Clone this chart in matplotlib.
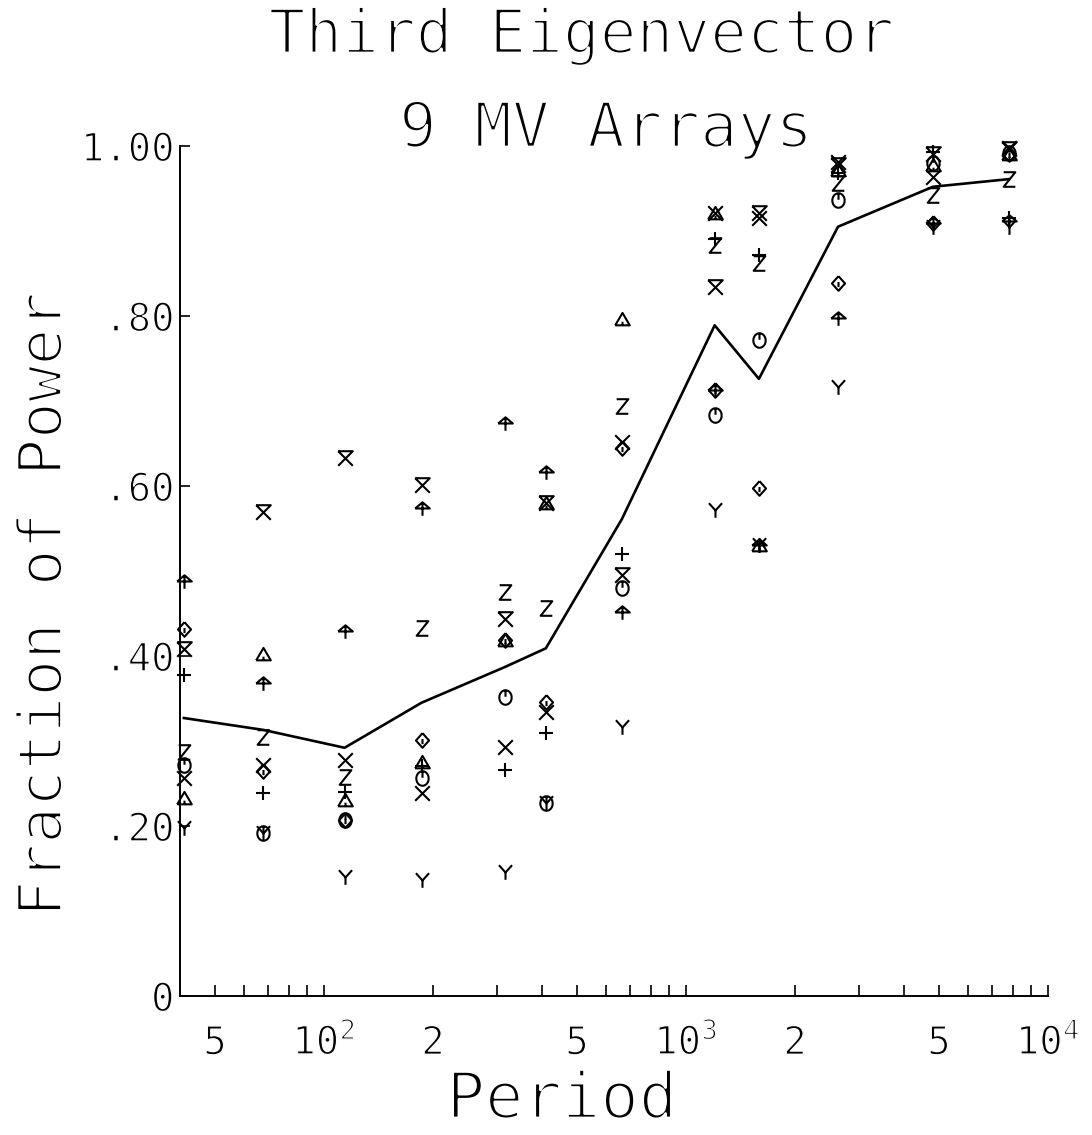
"""Third eigenvector power fraction vs period for the 9 MV arrays."""
import numpy as np
import matplotlib
matplotlib.use("Agg")
import matplotlib.pyplot as plt
from matplotlib import patheffects as pe
from matplotlib.path import Path
from matplotlib.ticker import FixedLocator, NullFormatter

# period of each band (s)
PERIOD = [41, 68, 114, 186, 316, 410, 665, 1200, 1590, 2630, 4810, 7800]

# fraction of power per array
PLUS      = [0.378, 0.239, 0.240, 0.270, 0.266, 0.309, 0.520, 0.890, 0.872, 0.968, 0.993, 0.915]
CROSS     = [0.256, 0.272, 0.278, 0.239, 0.293, 0.334, 0.652, 0.921, 0.915, 0.981, 0.964, 0.998]
ZED       = [0.287, 0.305, 0.258, 0.433, 0.475, 0.456, 0.694, 0.884, 0.862, 0.956, 0.942, 0.961]
WYE       = [0.198, 0.192, 0.140, 0.136, 0.146, 0.227, 0.316, 0.572, 0.530, 0.716, 0.905, 0.905]
DIAMOND   = [0.432, 0.265, 0.207, 0.301, 0.419, 0.346, 0.645, 0.713, 0.598, 0.839, 0.909, 0.990]
TRIANGLE  = [0.233, 0.402, 0.231, 0.275, 0.419, 0.580, 0.796, 0.921, 0.530, 0.972, 0.978, 0.990]
CIRCLE    = [0.272, 0.192, 0.207, 0.256, 0.352, 0.227, 0.480, 0.684, 0.772, 0.936, 0.980, 0.992]
UMBRELLA  = [0.488, 0.368, 0.429, 0.574, 0.674, 0.617, 0.452, 0.713, 0.530, 0.798, 0.909, 0.912]
HOURGLASS = [0.408, 0.569, 0.633, 0.601, 0.444, 0.580, 0.495, 0.834, 0.921, 0.978, 0.990, 0.996]

# average over the arrays
MEAN = [0.327, 0.313, 0.292, 0.345, 0.387, 0.409, 0.561, 0.789, 0.726, 0.905, 0.952, 0.961]

XTICKS_LABELED = [50, 100, 200, 500, 1000, 2000, 5000, 10000]
XTICK_LABELS = ["5", r"$\mathregular{10^{2}}$", "2", "5",
                r"$\mathregular{10^{3}}$", "2", "5", r"$\mathregular{10^{4}}$"]
XTICKS_MINOR = [60, 70, 80, 90, 300, 400, 600, 700, 800, 900,
                3000, 4000, 6000, 7000, 8000, 9000]
YTICKS = [0, 0.2, 0.4, 0.6, 0.8, 1.0]
YTICK_LABELS = ["0", ".20", ".40", ".60", ".80", "1.00"]

plt.rcParams.update({
    "font.family": "DejaVu Sans Mono",
    "mathtext.fontset": "custom",
    "mathtext.rm": "DejaVu Sans Mono",
})

# pen-plotter look: eat into the glyph outlines with a white stroke
THIN_BIG = [pe.Normal(), pe.Stroke(linewidth=2.0, foreground="white")]
THIN_SMALL = [pe.Normal(), pe.Stroke(linewidth=1.0, foreground="white")]


def strokes(*lines):
    """Build an open line-drawn marker from a list of polylines."""
    verts, codes = [], []
    for line in lines:
        for i, p in enumerate(line):
            verts.append(p)
            codes.append(Path.MOVETO if i == 0 else Path.LINETO)
    return Path(verts, codes)


t = np.linspace(0, 2 * np.pi, 25)
ring = list(zip(0.85 * np.cos(t), np.sin(t)))

MARKERS = {
    "plus":      strokes([(-1, 0), (1, 0)], [(0, -1), (0, 1)]),
    "cross":     strokes([(-1, -1), (1, 1)], [(-1, 1), (1, -1)]),
    "zed":       strokes([(-0.8, 1), (0.8, 1), (-0.8, -1), (0.8, -1)]),
    "wye":       strokes([(-0.9, 1), (0, 0), (0.9, 1)], [(0, 0), (0, -1)]),
    "diamond":   strokes([(0, 1), (0.9, 0), (0, -1), (-0.9, 0), (0, 1)],
                         [(0, 0.2), (0, -0.5)]),
    "triangle":  strokes([(-1, -0.8), (1, -0.8), (0, 0.9), (-1, -0.8)],
                         [(0, -0.8), (0, -0.3)]),
    "circle":    strokes(ring, [(0, 1), (0, 0.1)]),
    "umbrella":  strokes([(-1, 0), (1, 0), (0, 0.85), (-1, 0)],
                         [(0, 0.85), (0, -1)]),
    "hourglass": strokes([(-1, 1), (1, 1), (-1, -1)], [(-1, 1), (1, -1)]),
}

SERIES = [
    (PLUS, "plus"), (CROSS, "cross"), (ZED, "zed"), (WYE, "wye"),
    (DIAMOND, "diamond"), (TRIANGLE, "triangle"), (CIRCLE, "circle"),
    (UMBRELLA, "umbrella"), (HOURGLASS, "hourglass"),
]

fig = plt.figure(figsize=(10.92, 11.35), dpi=100)
ax = fig.add_axes([0.1648, 0.1225, 0.7949, 0.7489])

for values, name in SERIES:
    ax.plot(PERIOD, values, linestyle="none", marker=MARKERS[name],
            markersize=10.5, markerfacecolor="none", markeredgecolor="black",
            markeredgewidth=1.5, clip_on=False, zorder=3)

ax.plot(PERIOD, MEAN, color="black", linewidth=1.9, clip_on=False, zorder=2)

ax.set_xscale("log")
ax.set_xlim(40, 10000)
ax.set_ylim(0, 1.0)

for side in ("top", "right"):
    ax.spines[side].set_visible(False)
for side in ("left", "bottom"):
    ax.spines[side].set_linewidth(1.4)

ax.xaxis.set_major_locator(FixedLocator(XTICKS_LABELED))
ax.set_xticklabels(XTICK_LABELS)
ax.xaxis.set_minor_locator(FixedLocator(XTICKS_MINOR))
ax.xaxis.set_minor_formatter(NullFormatter())
ax.set_yticks(YTICKS)
ax.set_yticklabels(YTICK_LABELS)

ax.tick_params(axis="x", which="both", direction="in", length=8, width=1.2,
               labelsize=28, pad=42)
ax.tick_params(axis="y", direction="in", length=7, width=1.2,
               labelsize=28, pad=4)
for lab in ax.get_xticklabels():
    lab.set_verticalalignment("baseline")
for lab in ax.get_xticklabels() + ax.get_yticklabels():
    lab.set_path_effects(THIN_SMALL)

fig.text(581 / 1092, 1 - 53 / 1135, "Third Eigenvector", fontsize=44,
         ha="center", va="baseline", path_effects=THIN_BIG)
fig.text(606 / 1092, 1 - 147 / 1135, "9 MV Arrays", fontsize=45,
         ha="center", va="baseline", path_effects=THIN_BIG)
fig.text(45 / 1092, 1 - 605 / 1135, "Fraction of Power", fontsize=44,
         rotation=90, ha="center", va="center", path_effects=THIN_BIG)
fig.text(562 / 1092, 1 - 1100 / 1135, "Period", fontsize=46,
         ha="center", va="center", path_effects=THIN_BIG)

fig.savefig("out.png", dpi=100, facecolor="white")
